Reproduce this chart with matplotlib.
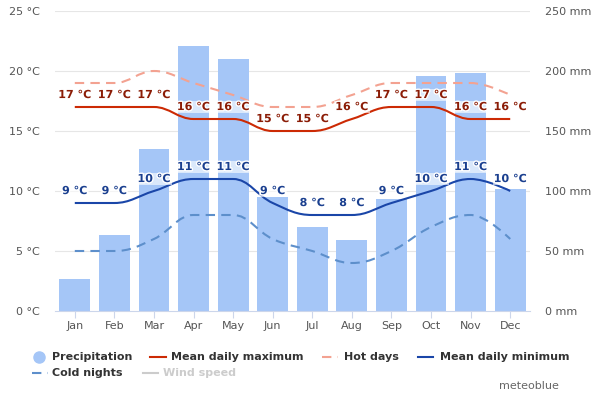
import numpy as np
import matplotlib
matplotlib.use("Agg")
import matplotlib.pyplot as plt
from matplotlib.path import Path
from matplotlib.patches import PathPatch
import matplotlib.patheffects as pe
from matplotlib.lines import Line2D

months = ["Jan", "Feb", "Mar", "Apr", "May", "Jun", "Jul", "Aug", "Sep", "Oct", "Nov", "Dec"]
precipitation = [27, 63, 135, 221, 210, 95, 70, 59, 93, 196, 198, 102]
mean_max = [17, 17, 17, 16, 16, 15, 15, 16, 17, 17, 16, 16]
hot_days = [19, 19, 20, 19, 18, 17, 17, 18, 19, 19, 19, 18]
mean_min = [9, 9, 10, 11, 11, 9, 8, 8, 9, 10, 11, 10]
cold_nights = [5, 5, 6, 8, 8, 6, 5, 4, 5, 7, 8, 6]
temp_ticks = [0, 5, 10, 15, 20, 25]
precip_ticks = [0, 50, 100, 150, 200, 250]


def spline_path(xs, ys, smoothing=1.5):
    n = len(xs)
    denom = smoothing + 1
    lc = [None] * n
    rc = [None] * n
    for i in range(n):
        if 0 < i < n - 1:
            px, py = xs[i], ys[i]
            lx, ly = xs[i - 1], ys[i - 1]
            nx, ny = xs[i + 1], ys[i + 1]
            lcx = (smoothing * px + lx) / denom
            lcy = (smoothing * py + ly) / denom
            rcx = (smoothing * px + nx) / denom
            rcy = (smoothing * py + ny) / denom
            corr = ((rcy - lcy) * (rcx - px)) / (rcx - lcx) + py - rcy
            lcy += corr
            rcy += corr
            if lcy > ly and lcy > py:
                lcy = max(ly, py)
                rcy = 2 * py - lcy
            elif lcy < ly and lcy < py:
                lcy = min(ly, py)
                rcy = 2 * py - lcy
            if rcy > ny and rcy > py:
                rcy = max(ny, py)
                lcy = 2 * py - rcy
            elif rcy < ny and rcy < py:
                rcy = min(ny, py)
                lcy = 2 * py - rcy
            lc[i] = (lcx, lcy)
            rc[i] = (rcx, rcy)
        else:
            lc[i] = (xs[i], ys[i])
            rc[i] = (xs[i], ys[i])
    verts = [(xs[0], ys[0])]
    codes = [Path.MOVETO]
    for i in range(1, n):
        verts += [rc[i - 1], lc[i], (xs[i], ys[i])]
        codes += [Path.CURVE4] * 3
    return Path(verts, codes)


fig = plt.figure(figsize=(6, 4), dpi=100)
ax = fig.add_axes([55 / 600, 1 - 311 / 400, 475 / 600, 300 / 400])
ax2 = ax.twinx()
ax.set_zorder(2)
ax.patch.set_visible(False)
ax2.set_zorder(1)

x = np.arange(len(months))
ax2.bar(x, precipitation, width=0.78, color="#a5c6f7", zorder=2)
ax2.set_ylim(0, 250)
ax.set_ylim(0, 25)
ax.set_xlim(-0.5, 11.5)

for t in temp_ticks[1:]:
    ax2.axhline(t * 10, color="#e6e6e6", lw=0.8, zorder=1)

dash = (0, (4.5, 3))
series = [
    (mean_max, "#cc2a04", "-"),
    (hot_days, "#f3a291", dash),
    (mean_min, "#1a46a8", "-"),
    (cold_nights, "#5d8fcb", dash),
]
for vals, col, ls in series:
    p = spline_path(list(x.astype(float)), [float(v) for v in vals])
    ax.add_patch(PathPatch(p, fill=False, edgecolor=col, lw=1.5, linestyle=ls, zorder=3, capstyle="butt"))

for vals, col in [(mean_max, "#8b1c06"), (mean_min, "#1a3f8f")]:
    for xi, v in zip(x, vals):
        ax.annotate(f"{v} °C", (xi, v), xytext=(0, 5), textcoords="offset points",
                    ha="center", va="bottom", fontsize=8, fontweight="bold", color=col,
                    zorder=5,
                    bbox=dict(boxstyle="square,pad=0.1", fc="white", ec="none", alpha=0.6),
                    path_effects=[pe.withStroke(linewidth=2, foreground="white")])

ax.set_xticks(x)
ax.set_xticklabels(months)
ax.set_yticks(temp_ticks)
ax.set_yticklabels([f"{t} °C" for t in temp_ticks])
ax2.set_yticks(precip_ticks)
ax2.set_yticklabels([f"{t} mm" for t in precip_ticks])
for a in (ax, ax2):
    for s in a.spines.values():
        s.set_visible(False)
ax.spines["bottom"].set_visible(True)
ax.spines["bottom"].set_color("#ccd6eb")
ax.tick_params(axis="x", colors="#ccd6eb", length=5, labelcolor="#555555", labelsize=8, pad=2)
ax.tick_params(axis="y", length=0, labelcolor="#555555", labelsize=8, pad=11)
ax2.tick_params(axis="y", length=0, labelcolor="#555555", labelsize=8, pad=11)
ax2.tick_params(axis="x", length=0)


def fx(px):
    return px / 600


def fy(py):
    return 1 - py / 400


fs = 8
lab = dict(fontsize=fs, fontweight="bold", color="#333333", va="center", ha="left")
r1, r2 = 357, 373
fig.add_artist(Line2D([fx(39)], [fy(r1)], marker="o", markersize=8, color="#a5c6f7", lw=0))
fig.text(fx(52), fy(r1), "Precipitation", **lab)
fig.add_artist(Line2D([fx(150), fx(166)], [fy(r1), fy(r1)], color="#cc2a04", lw=1.5))
fig.text(fx(171), fy(r1), "Mean daily maximum", **lab)
fig.add_artist(Line2D([fx(322), fx(338)], [fy(r1), fy(r1)], color="#f3a291", lw=1.5, linestyle=dash))
fig.text(fx(344), fy(r1), "Hot days", **lab)
fig.add_artist(Line2D([fx(418), fx(433)], [fy(r1), fy(r1)], color="#1a46a8", lw=1.5))
fig.text(fx(440), fy(r1), "Mean daily minimum", **lab)
fig.add_artist(Line2D([fx(32), fx(48)], [fy(r2), fy(r2)], color="#5d8fcb", lw=1.5, linestyle=dash))
fig.text(fx(52), fy(r2), "Cold nights", **lab)
fig.add_artist(Line2D([fx(143), fx(158)], [fy(r2), fy(r2)], color="#cccccc", lw=1.5))
fig.text(fx(163), fy(r2), "Wind speed", fontsize=fs, fontweight="bold", color="#cccccc", va="center", ha="left")
fig.text(fx(559), fy(386), "meteoblue", fontsize=8, color="#666666", ha="right", va="center")

fig.savefig("out.png", dpi=100)
